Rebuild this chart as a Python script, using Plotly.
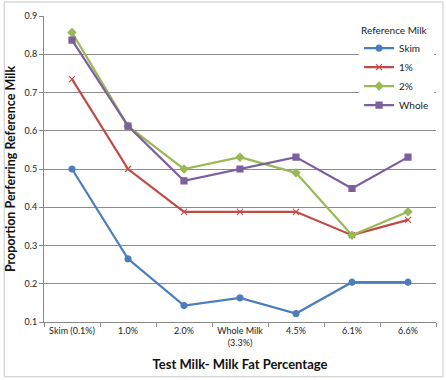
import plotly.graph_objects as go

categories = ["Skim (0.1%)", "1.0%", "2.0%", "Whole Milk<br>(3.3%)", "4.5%", "6.1%", "6.6%"]
skim = [0.500, 0.265, 0.143, 0.163, 0.122, 0.204, 0.204]
one_pct = [0.735, 0.500, 0.388, 0.388, 0.388, 0.327, 0.367]
two_pct = [0.857, 0.612, 0.500, 0.531, 0.490, 0.327, 0.388]
whole = [0.837, 0.612, 0.469, 0.500, 0.531, 0.449, 0.531]
y_ticks = [0.1, 0.2, 0.3, 0.4, 0.5, 0.6, 0.7, 0.8, 0.9]

series = [
    ("Skim", skim, "#4A7EBB", "circle", 6),
    ("1%", one_pct, "#BE4B48", "x-thin", 6),
    ("2%", two_pct, "#98B954", "diamond", 6),
    ("Whole", whole, "#7D5FA0", "square", 6),
]

fig = go.Figure()
for name, vals, color, sym, sz in series:
    fig.add_trace(go.Scatter(
        x=categories, y=vals, name=name, mode="lines+markers",
        line=dict(color=color, width=2.2),
        marker=dict(symbol=sym, size=sz, color=color,
                    line=dict(color=color, width=1.2)),
    ))

font = "Lato, 'Liberation Sans', sans-serif"
fig.update_layout(
    width=446, height=380,
    margin=dict(l=42, r=10, t=16, b=57),
    paper_bgcolor="white", plot_bgcolor="white",
    font=dict(family=font, size=9, color="#222"),
    showlegend=True,
    legend=dict(
        title=dict(text="Reference Milk", font=dict(size=10, color="#222"), side="top"),
        x=0.995, xanchor="right", y=0.985, yanchor="top",
        bgcolor="white", font=dict(size=10), tracegroupgap=0,
        itemwidth=30,
    ),
    xaxis=dict(
        type="category", showgrid=False, showline=True, linecolor="#888",
        linewidth=1, ticks="outside", tickson="boundaries", ticklen=4,
        tickcolor="#888", tickfont=dict(size=9),
        title=dict(text="<b>Test Milk- Milk Fat Percentage</b>", font=dict(size=13, color="#111"), standoff=13),
        range=[-0.5, 6.5],
    ),
    yaxis=dict(
        range=[0.1, 0.9], tickvals=y_ticks, tickformat=".1f",
        showgrid=True, gridcolor="#8c8c8c", gridwidth=1,
        showline=True, linecolor="#888", linewidth=1,
        ticks="outside", ticklen=4, tickcolor="#888",
        tickfont=dict(size=9), zeroline=False,
        title=dict(text="<b>Proportion Perferring Reference Milk</b>", font=dict(size=12.5, color="#111"), standoff=6),
    ),
    shapes=[dict(type="rect", xref="paper", yref="paper",
                 x0=-0.1015, x1=1.0178, y0=-0.179, y1=1.0456,
                 line=dict(color="#c8c8c8", width=1), layer="below")],
)

fig.write_html("out.html")
